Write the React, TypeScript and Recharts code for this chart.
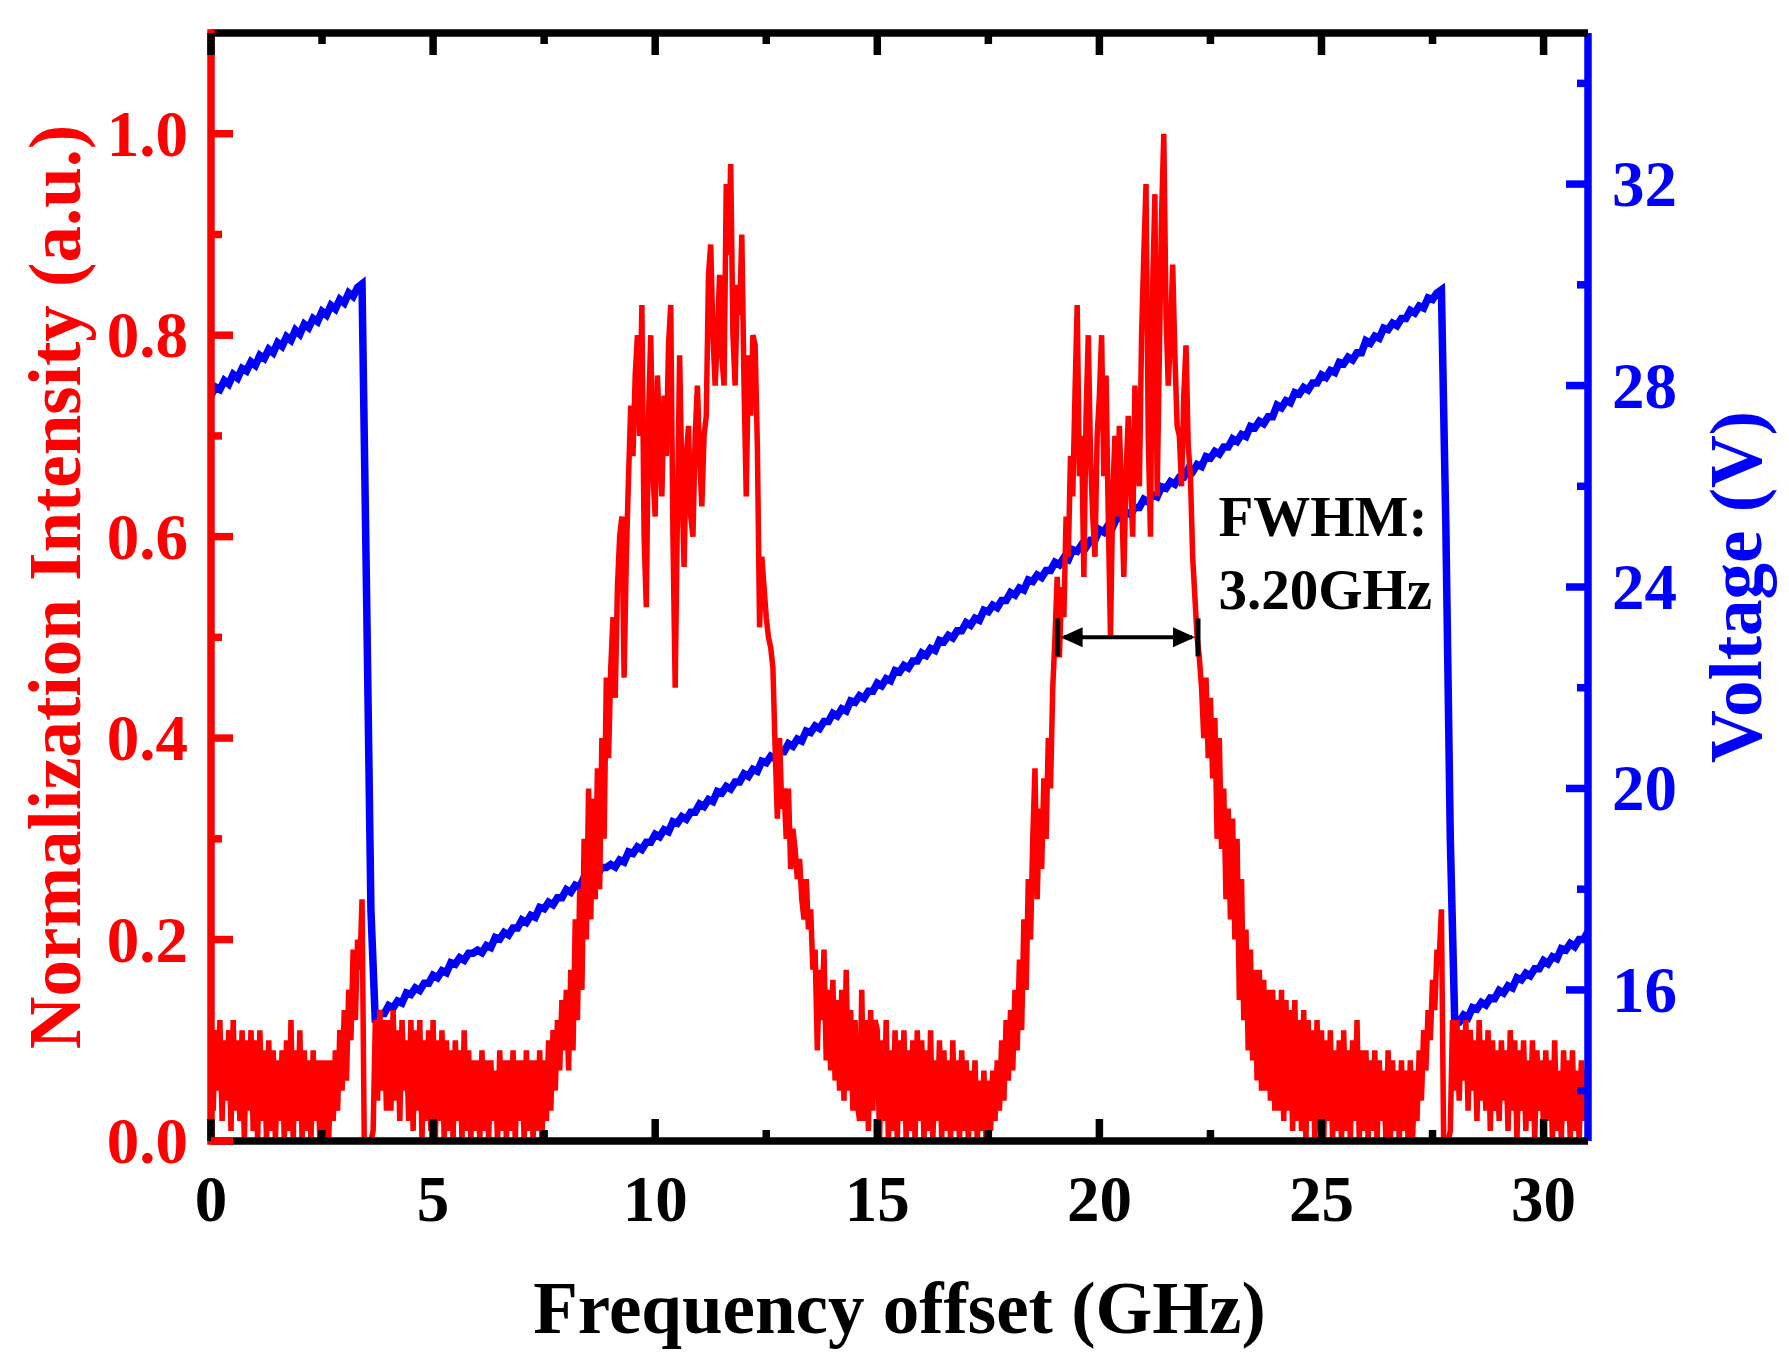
import React from "react";
import {
  LineChart,
  Line,
  XAxis,
  YAxis,
  ReferenceLine,
  ReferenceDot,
  Label,
} from "recharts";

// red trace: normalised intensity, one sample every 0.05 GHz from 0 to 31 GHz
const FREQ_STEP = 0.05;
const intensity = [
  0.12, 0.03, 0.11, 0.05, 0.12, 0.02, 0.10, 0.04, 0.11, 0.01, 0.12, 0.03, 0.10, 0.02, 0.11, 0.00, 0.10, 0.03, 0.11, 0.01,
  0.10, 0.00, 0.11, 0.02, 0.09, 0.00, 0.10, 0.01, 0.09, 0.00, 0.08, 0.02, 0.09, 0.00, 0.10, 0.01, 0.12, 0.00, 0.09, 0.02,
  0.11, 0.00, 0.09, 0.01, 0.08, 0.00, 0.09, 0.02, 0.08, 0.00, 0.08, 0.01, 0.08, 0.00, 0.08, 0.02, 0.09, 0.03, 0.11, 0.05,
  0.13, 0.06, 0.15, 0.10, 0.19, 0.12, 0.20, 0.17, 0.24, 0.00, 0.00, 0.00, 0.00, 0.01, 0.12, 0.04, 0.13, 0.05, 0.12, 0.03,
  0.12, 0.03, 0.13, 0.04, 0.11, 0.02, 0.12, 0.05, 0.10, 0.02, 0.12, 0.01, 0.11, 0.03, 0.12, 0.00, 0.10, 0.02, 0.11, 0.01,
  0.12, 0.00, 0.10, 0.02, 0.11, 0.00, 0.10, 0.01, 0.09, 0.00, 0.10, 0.02, 0.09, 0.00, 0.11, 0.01, 0.09, 0.00, 0.08, 0.01,
  0.08, 0.00, 0.09, 0.01, 0.08, 0.00, 0.08, 0.02, 0.07, 0.00, 0.09, 0.01, 0.08, 0.00, 0.08, 0.01, 0.09, 0.00, 0.08, 0.02,
  0.08, 0.00, 0.09, 0.01, 0.08, 0.00, 0.08, 0.01, 0.09, 0.00, 0.08, 0.02, 0.10, 0.03, 0.11, 0.05, 0.12, 0.07, 0.14, 0.09,
  0.15, 0.07, 0.17, 0.09, 0.22, 0.12, 0.25, 0.15, 0.30, 0.20, 0.35, 0.22, 0.34, 0.24, 0.37, 0.25, 0.40, 0.30, 0.46, 0.38,
  0.47, 0.52, 0.44, 0.55, 0.60, 0.62, 0.46, 0.58, 0.66, 0.73, 0.68, 0.76, 0.80, 0.70, 0.83, 0.60, 0.53, 0.72, 0.80, 0.66,
  0.62, 0.76, 0.70, 0.64, 0.74, 0.68, 0.79, 0.83, 0.60, 0.45, 0.62, 0.78, 0.66, 0.57, 0.68, 0.71, 0.62, 0.60, 0.70, 0.75,
  0.68, 0.63, 0.70, 0.72, 0.86, 0.89, 0.80, 0.75, 0.80, 0.86, 0.78, 0.75, 0.95, 0.88, 0.97, 0.80, 0.75, 0.85, 0.82, 0.90,
  0.75, 0.64, 0.78, 0.72, 0.80, 0.79, 0.69, 0.51, 0.58, 0.55, 0.52, 0.50, 0.49, 0.47, 0.39, 0.32, 0.40, 0.33, 0.35, 0.30,
  0.35, 0.27, 0.31, 0.29, 0.26, 0.28, 0.24, 0.22, 0.26, 0.21, 0.23, 0.17, 0.19, 0.09, 0.17, 0.12, 0.19, 0.08, 0.15, 0.07,
  0.16, 0.06, 0.14, 0.05, 0.15, 0.04, 0.17, 0.05, 0.13, 0.03, 0.12, 0.04, 0.02, 0.15, 0.02, 0.12, 0.01, 0.13, 0.03, 0.12,
  0.11, 0.00, 0.10, 0.02, 0.12, 0.00, 0.09, 0.01, 0.11, 0.00, 0.10, 0.02, 0.11, 0.00, 0.09, 0.01, 0.10, 0.00, 0.11, 0.02,
  0.10, 0.00, 0.09, 0.01, 0.11, 0.00, 0.08, 0.02, 0.10, 0.00, 0.09, 0.01, 0.08, 0.00, 0.10, 0.01, 0.08, 0.00, 0.09, 0.01,
  0.08, 0.00, 0.07, 0.01, 0.08, 0.00, 0.06, 0.01, 0.07, 0.00, 0.06, 0.01, 0.07, 0.02, 0.08, 0.03, 0.10, 0.04, 0.12, 0.06,
  0.13, 0.07, 0.15, 0.09, 0.18, 0.11, 0.22, 0.15, 0.26, 0.20, 0.30, 0.37, 0.24, 0.33, 0.27, 0.36, 0.30, 0.40, 0.35, 0.45,
  0.50, 0.56, 0.48, 0.55, 0.52, 0.62, 0.58, 0.68, 0.64, 0.74, 0.83, 0.66, 0.70, 0.56, 0.72, 0.80, 0.68, 0.62, 0.58, 0.70,
  0.74, 0.80, 0.66, 0.76, 0.62, 0.50, 0.64, 0.70, 0.62, 0.71, 0.64, 0.56, 0.66, 0.72, 0.66, 0.60, 0.75, 0.68, 0.65, 0.80,
  0.88, 0.95, 0.70, 0.60, 0.85, 0.94, 0.64, 0.78, 0.92, 1.00, 0.82, 0.75, 0.80, 0.87, 0.78, 0.71, 0.70, 0.65, 0.74, 0.79,
  0.69, 0.66, 0.58, 0.54, 0.50, 0.48, 0.45, 0.40, 0.46, 0.38, 0.44, 0.36, 0.42, 0.30, 0.40, 0.29, 0.35, 0.24, 0.33, 0.22,
  0.32, 0.20, 0.30, 0.14, 0.26, 0.12, 0.21, 0.09, 0.19, 0.08, 0.17, 0.06, 0.17, 0.05, 0.16, 0.05, 0.15, 0.04, 0.15, 0.03,
  0.14, 0.03, 0.15, 0.02, 0.14, 0.03, 0.13, 0.01, 0.14, 0.02, 0.12, 0.01, 0.13, 0.00, 0.12, 0.02, 0.11, 0.00, 0.12, 0.01,
  0.11, 0.00, 0.10, 0.02, 0.11, 0.00, 0.09, 0.01, 0.10, 0.00, 0.11, 0.01, 0.09, 0.00, 0.10, 0.02, 0.12, 0.00, 0.09, 0.01,
  0.09, 0.00, 0.08, 0.01, 0.09, 0.00, 0.08, 0.02, 0.07, 0.00, 0.09, 0.00, 0.08, 0.01, 0.07, 0.00, 0.08, 0.01, 0.07, 0.00,
  0.08, 0.00, 0.07, 0.02, 0.09, 0.04, 0.11, 0.07, 0.13, 0.10, 0.16, 0.13, 0.19, 0.18, 0.23, 0.00, 0.00, 0.00, 0.01, 0.12,
  0.05, 0.12, 0.04, 0.11, 0.06, 0.12, 0.03, 0.11, 0.05, 0.10, 0.02, 0.12, 0.04, 0.10, 0.03, 0.11, 0.01, 0.10, 0.03, 0.09,
  0.02, 0.10, 0.04, 0.09, 0.01, 0.11, 0.03, 0.10, 0.00, 0.09, 0.03, 0.10, 0.01, 0.08, 0.02, 0.10, 0.00, 0.09, 0.03, 0.08,
  0.01, 0.09, 0.02, 0.08, 0.00, 0.10, 0.01, 0.07, 0.00, 0.09, 0.02, 0.08, 0.00, 0.09, 0.01, 0.07, 0.00, 0.08, 0.02, 0.07,
  0.03,
];

// blue trace: ramp voltage, one sample every 0.1 GHz from 0 to 31 GHz
const VOLT_STEP = 0.1;
const voltage = [
  27.80, 27.97, 27.92, 28.10, 28.03, 28.22, 28.15, 28.34, 28.29, 28.47,
  28.40, 28.60, 28.54, 28.72, 28.65, 28.85, 28.78, 28.97, 28.90, 29.10,
  29.02, 29.22, 29.15, 29.33, 29.27, 29.47, 29.40, 29.59, 29.52, 29.71,
  29.64, 29.84, 29.77, 29.95, 30.02, 24.00, 17.60, 15.35, 15.53, 15.53,
  15.69, 15.64, 15.78, 15.74, 15.94, 15.91, 16.04, 15.99, 16.13, 16.13,
  16.29, 16.24, 16.38, 16.34, 16.54, 16.51, 16.64, 16.59, 16.73, 16.73,
  16.79, 16.74, 16.88, 16.84, 17.04, 17.01, 17.14, 17.09, 17.23, 17.23,
  17.39, 17.34, 17.48, 17.44, 17.64, 17.61, 17.74, 17.69, 17.83, 17.83,
  17.99, 17.94, 18.08, 18.04, 18.24, 18.21, 18.34, 18.29, 18.43, 18.43,
  18.49, 18.44, 18.58, 18.54, 18.74, 18.71, 18.84, 18.79, 18.93, 18.93,
  19.09, 19.04, 19.18, 19.14, 19.34, 19.31, 19.44, 19.39, 19.53, 19.53,
  19.69, 19.64, 19.78, 19.74, 19.94, 19.91, 20.04, 19.99, 20.13, 20.13,
  20.29, 20.24, 20.38, 20.34, 20.54, 20.51, 20.64, 20.59, 20.73, 20.73,
  20.89, 20.84, 20.98, 20.94, 21.14, 21.11, 21.24, 21.19, 21.33, 21.33,
  21.49, 21.44, 21.58, 21.54, 21.74, 21.71, 21.84, 21.79, 21.93, 21.93,
  22.09, 22.04, 22.18, 22.14, 22.34, 22.31, 22.44, 22.39, 22.53, 22.53,
  22.69, 22.64, 22.78, 22.74, 22.94, 22.91, 23.04, 22.99, 23.13, 23.13,
  23.29, 23.24, 23.38, 23.34, 23.54, 23.51, 23.64, 23.59, 23.73, 23.73,
  23.89, 23.84, 23.98, 23.94, 24.14, 24.11, 24.24, 24.19, 24.33, 24.33,
  24.49, 24.44, 24.58, 24.54, 24.74, 24.71, 24.84, 24.79, 24.93, 24.93,
  25.14, 25.09, 25.23, 25.19, 25.39, 25.36, 25.49, 25.44, 25.58, 25.58,
  25.74, 25.69, 25.83, 25.79, 25.99, 25.96, 26.09, 26.04, 26.18, 26.18,
  26.34, 26.29, 26.43, 26.39, 26.59, 26.56, 26.69, 26.64, 26.78, 26.78,
  26.94, 26.89, 27.03, 26.99, 27.19, 27.16, 27.29, 27.24, 27.38, 27.38,
  27.61, 27.56, 27.70, 27.66, 27.86, 27.83, 27.96, 27.91, 28.05, 28.05,
  28.21, 28.16, 28.30, 28.26, 28.46, 28.43, 28.56, 28.51, 28.65, 28.65,
  28.89, 28.84, 28.98, 28.94, 29.14, 29.11, 29.24, 29.19, 29.33, 29.33,
  29.49, 29.44, 29.58, 29.54, 29.74, 29.71, 29.84, 29.90, 25.20, 19.00,
  15.35, 15.36, 15.50, 15.45, 15.65, 15.62, 15.75, 15.70, 15.84, 15.83,
  15.99, 15.94, 16.08, 16.04, 16.24, 16.20, 16.33, 16.28, 16.42, 16.42,
  16.58, 16.52, 16.66, 16.62, 16.82, 16.79, 16.92, 16.86, 17.00, 17.00,
  17.16,
];

const freqMajor = [0, 5, 10, 15, 20, 25, 30];
const freqMinor = [2.5, 7.5, 12.5, 17.5, 22.5, 27.5];
const intensityMajor = [0, 0.2, 0.4, 0.6, 0.8, 1.0];
const intensityMinor = [0.1, 0.3, 0.5, 0.7, 0.9];
const voltMajor = [16, 20, 24, 28, 32];
const voltMinor = [14, 18, 22, 26, 30, 34];

// FWHM marker of the second peak
const fwhmEdges = [19.06, 22.22];
const fwhmLevel = 0.5;
const fwhmText = ["FWHM:", "3.20GHz"];
const fwhmTextAt = { f: 22.68, v: 0.601 };

const RED = "#ff0000";
const BLUE = "#0000ff";
const BLACK = "#000000";
const FONT = '"Liberation Serif", "Times New Roman", Times, serif';
const AXIS_W = 7.5;
const MAJOR_LEN = 22;
const MINOR_LEN = 11;

const intensityData = intensity.map((v, i) => ({ f: +(i * FREQ_STEP).toFixed(2), v }));
const voltageData = voltage.map((v, i) => ({ f: +(i * VOLT_STEP).toFixed(1), v }));

const sortNum = (a: number[]) => [...a].sort((x, y) => x - y);
const isIn = (list: number[], v: number) => list.some((m) => Math.abs(m - v) < 1e-6);

const textStyle = {
  fontFamily: FONT,
  fontWeight: "bold" as const,
};

function LeftTick(props: any) {
  const { x, y, payload } = props;
  const major = isIn(intensityMajor, payload.value);
  return (
    <g>
      <line x1={x} x2={x + (major ? MAJOR_LEN : MINOR_LEN)} y1={y} y2={y} stroke={RED} strokeWidth={AXIS_W} />
      {major && (
        <text x={x - 23} y={y} textAnchor="end" dominantBaseline="central" fill={RED} fontSize={65} style={textStyle}>
          {payload.value.toFixed(1)}
        </text>
      )}
    </g>
  );
}

function RightTick(props: any) {
  const { x, y, payload } = props;
  const major = isIn(voltMajor, payload.value);
  return (
    <g>
      <line x1={x} x2={x - (major ? MAJOR_LEN : MINOR_LEN)} y1={y} y2={y} stroke={BLUE} strokeWidth={AXIS_W} />
      {major && (
        <text x={x + 24} y={y} textAnchor="start" dominantBaseline="central" fill={BLUE} fontSize={65} style={textStyle}>
          {payload.value}
        </text>
      )}
    </g>
  );
}

function BottomTick(props: any) {
  const { x, y, payload } = props;
  const major = isIn(freqMajor, payload.value);
  return (
    <g>
      <line x1={x} x2={x} y1={y} y2={y - (major ? MAJOR_LEN : MINOR_LEN)} stroke={BLACK} strokeWidth={AXIS_W} />
      {major && (
        <text x={x} y={y + 80} textAnchor="middle" fill={BLACK} fontSize={65} style={textStyle}>
          {payload.value}
        </text>
      )}
    </g>
  );
}

function TopTick(props: any) {
  const { x, y, payload } = props;
  const major = isIn(freqMajor, payload.value);
  return (
    <line x1={x} x2={x} y1={y} y2={y + (major ? MAJOR_LEN : MINOR_LEN)} stroke={BLACK} strokeWidth={AXIS_W} />
  );
}

function FwhmArrow(props: any) {
  const { x1, y1, x2 } = props;
  const y = y1;
  const head = 22;
  const half = 10;
  return (
    <g>
      <line x1={x1 + 6} x2={x2 - 6} y1={y} y2={y} stroke={BLACK} strokeWidth={4} />
      <polygon points={`${x1 + 3},${y} ${x1 + 3 + head},${y - half} ${x1 + 3 + head},${y + half}`} fill={BLACK} />
      <polygon points={`${x2 - 3},${y} ${x2 - 3 - head},${y - half} ${x2 - 3 - head},${y + half}`} fill={BLACK} />
      <line x1={x1} x2={x1} y1={y - 19} y2={y + 19} stroke={BLACK} strokeWidth={5} />
      <line x1={x2} x2={x2} y1={y - 19} y2={y + 19} stroke={BLACK} strokeWidth={5} />
    </g>
  );
}

function FwhmLabel(props: any) {
  const { cx, cy } = props;
  return (
    <g>
      <text x={cx} y={cy} fill={BLACK} fontSize={57} style={textStyle}>
        {fwhmText[0]}
      </text>
      <text x={cx} y={cy + 73} fill={BLACK} fontSize={57} style={textStyle}>
        {fwhmText[1]}
      </text>
    </g>
  );
}

function AxisTitle({ viewBox, text, color, dx, dy, rotate }: any) {
  const cx = viewBox.x + dx(viewBox);
  const cy = viewBox.y + dy(viewBox);
  return (
    <text
      x={cx}
      y={cy}
      transform={rotate ? `rotate(-90, ${cx}, ${cy})` : undefined}
      textAnchor="middle"
      dominantBaseline={rotate ? "central" : "auto"}
      fill={color}
      fontSize={73}
      style={textStyle}
    >
      {text}
    </text>
  );
}

export default function App() {
  return (
    <div style={{ position: "absolute", left: 0, top: 0, background: "#fff" }}>
      <LineChart width={1789} height={1370} margin={{ top: 13, right: 101, bottom: 149, left: 111 }}>
        <Line
          data={voltageData}
          xAxisId="bottom"
          yAxisId="right"
          dataKey="v"
          type="linear"
          stroke={BLUE}
          strokeWidth={7.5}
          dot={false}
          activeDot={false}
          isAnimationActive={false}
        />
        <Line
          data={intensityData}
          xAxisId="bottom"
          yAxisId="left"
          dataKey="v"
          type="linear"
          stroke={RED}
          strokeWidth={5.5}
          dot={false}
          activeDot={false}
          isAnimationActive={false}
        />
        <ReferenceLine
          xAxisId="bottom"
          yAxisId="left"
          segment={[
            { x: fwhmEdges[0], y: fwhmLevel },
            { x: fwhmEdges[1], y: fwhmLevel },
          ]}
          shape={(p: any) => <FwhmArrow {...p} />}
        />
        <ReferenceDot
          xAxisId="bottom"
          yAxisId="left"
          x={fwhmTextAt.f}
          y={fwhmTextAt.v}
          r={0}
          shape={(p: any) => <FwhmLabel {...p} />}
        />
        <YAxis
          yAxisId="right"
          orientation="right"
          type="number"
          domain={[13, 35]}
          ticks={sortNum([...voltMajor, ...voltMinor])}
          interval={0}
          width={100}
          tickSize={0}
          tickMargin={0}
          tickLine={false}
          tick={(p: any) => <RightTick {...p} />}
          axisLine={{ stroke: BLUE, strokeWidth: AXIS_W }}
          allowDataOverflow
        >
          <Label
            content={(p: any) => (
              <AxisTitle viewBox={p.viewBox} text="Voltage (V)" color={BLUE} rotate dx={() => 148} dy={(v: any) => v.height / 2} />
            )}
          />
        </YAxis>
        <XAxis
          xAxisId="top"
          orientation="top"
          dataKey="f"
          type="number"
          domain={[0, 31]}
          ticks={sortNum([...freqMajor, ...freqMinor])}
          interval={0}
          height={20}
          tickSize={0}
          tickMargin={0}
          tickLine={false}
          tick={(p: any) => <TopTick {...p} />}
          axisLine={{ stroke: BLACK, strokeWidth: AXIS_W }}
          allowDataOverflow
        />
        <XAxis
          xAxisId="bottom"
          orientation="bottom"
          dataKey="f"
          type="number"
          domain={[0, 31]}
          ticks={sortNum([...freqMajor, ...freqMinor])}
          interval={0}
          height={80}
          tickSize={0}
          tickMargin={0}
          tickLine={false}
          tick={(p: any) => <BottomTick {...p} />}
          axisLine={{ stroke: BLACK, strokeWidth: AXIS_W }}
          allowDataOverflow
        >
          <Label
            content={(p: any) => (
              <AxisTitle
                viewBox={p.viewBox}
                text="Frequency offset (GHz)"
                color={BLACK}
                dx={(v: any) => v.width / 2}
                dy={() => 192}
              />
            )}
          />
        </XAxis>
        <YAxis
          yAxisId="left"
          orientation="left"
          type="number"
          domain={[0, 1.1]}
          ticks={sortNum([...intensityMajor, ...intensityMinor])}
          interval={0}
          width={100}
          tickSize={0}
          tickMargin={0}
          tickLine={false}
          tick={(p: any) => <LeftTick {...p} />}
          axisLine={{ stroke: RED, strokeWidth: AXIS_W, strokeLinecap: "square" }}
          allowDataOverflow
        >
          <Label
            content={(p: any) => (
              <AxisTitle
                viewBox={p.viewBox}
                text="Normalization Intensity (a.u.)"
                color={RED}
                rotate
                dx={(v: any) => v.width - 156}
                dy={(v: any) => v.height / 2}
              />
            )}
          />
        </YAxis>
      </LineChart>
    </div>
  );
}
